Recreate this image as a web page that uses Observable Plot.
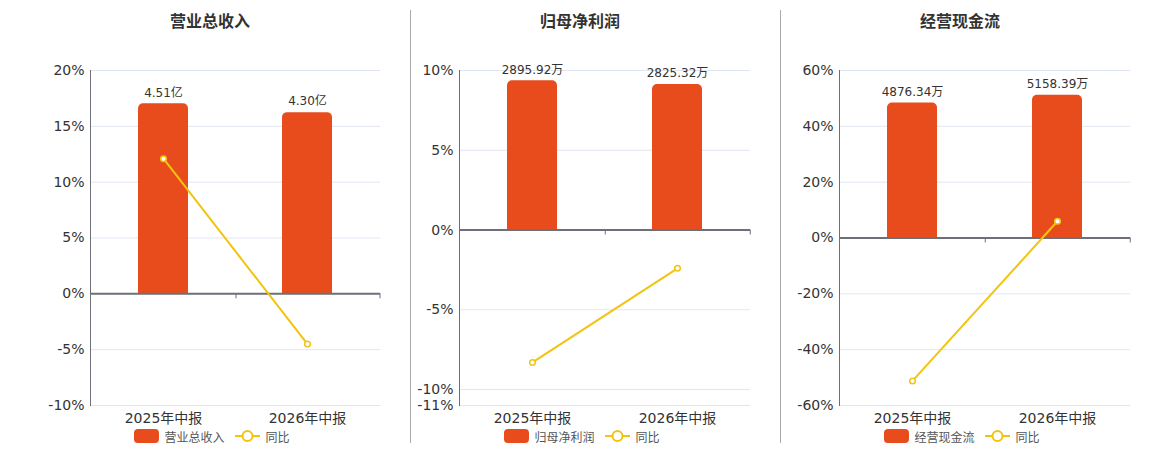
<!DOCTYPE html>
<html><head><meta charset="utf-8">
<script src="https://cdn.jsdelivr.net/npm/d3@7"></script>
<script src="https://cdn.jsdelivr.net/npm/@observablehq/plot@0.6"></script>
<style>
body{margin:0;background:#fff;font-family:"DejaVu Sans","Noto Sans CJK SC",sans-serif;}
#root{position:relative;width:1160px;height:450px;overflow:hidden;}
.title{position:absolute;top:10px;font-size:16px;font-weight:bold;color:#333;transform:translateX(-50%);white-space:nowrap;line-height:24px}
.plot{position:absolute;top:50px;}
.legend{position:absolute;top:428px;transform:translateX(-50%);display:flex;align-items:center;font-size:12px;color:#555;white-space:nowrap;height:16px}
.divider{position:absolute;top:10px;height:433px;width:1px;background:#aaa}
</style></head><body><div id="root"></div>
<script>
const categories = ["2025年中报", "2026年中报"];
const titles = ["营业总收入", "归母净利润", "经营现金流"];
const revenue = [4.51, 4.30];
const revenueYoY = [12.1, -4.5];
const netProfit = [2895.92, 2825.32];
const netProfitYoY = [-8.3, -2.4];
const cashFlow = [4876.34, 5158.39];
const cashFlowYoY = [-51.2, 6.0];
const units = ["亿", "万", "万"];
const yTicks1 = [-10, -5, 0, 5, 10, 15, 20];
const yTicks2 = [-11, -10, -5, 0, 5, 10];
const yTicks3 = [-60, -40, -20, 0, 20, 40, 60];
const barAxisMax = [5.3, 3097, 6055];
const legendLabel = "同比";

const BAR = "#e84c1c", LINE = "#f2c40f", AXIS = "#6e7079", GRID = "#e0e6f1";
const series = [
  {title: titles[0], values: revenue, yoy: revenueYoY, unit: units[0], ticks: yTicks1, barMax: barAxisMax[0]},
  {title: titles[1], values: netProfit, yoy: netProfitYoY, unit: units[1], ticks: yTicks2, barMax: barAxisMax[1]},
  {title: titles[2], values: cashFlow, yoy: cashFlowYoY, unit: units[2], ticks: yTicks3, barMax: barAxisMax[2]}
];
const layout = [
  {left: 0, width: 410, marginLeft: 90, center: 210},
  {left: 410, width: 370, marginLeft: 49, center: 580},
  {left: 780, width: 380, marginLeft: 59, center: 960}
];
const root = document.getElementById("root");
const font = '"DejaVu Sans","Noto Sans CJK SC",sans-serif';

series.forEach((s, i) => {
  const L = layout[i];
  const ymin = d3.min(s.ticks), ymax = d3.max(s.ticks);
  const rows = categories.map((c, j) => ({
    cat: c,
    bar: s.values[j] / s.barMax * ymax,
    yoy: s.yoy[j],
    label: s.values[j].toFixed(2) + s.unit
  }));
  const step = (L.width - L.marginLeft - 30) / categories.length;
  const chart = Plot.plot({
    width: L.width, height: 380,
    marginTop: 20, marginBottom: 25, marginLeft: L.marginLeft, marginRight: 30,
    x: {domain: categories, paddingInner: 0.655, paddingOuter: 0.3276, label: null},
    y: {domain: [ymin, ymax], label: null},
    style: {fontFamily: font, fontSize: "14px", color: "#333", background: "transparent", overflow: "visible"},
    marks: [
      Plot.gridY(s.ticks, {stroke: GRID, strokeOpacity: 1}),
      Plot.barY(rows, {x: "cat", y1: 0, y2: "bar", fill: BAR, rx: 5}),
      Plot.barY(rows, {x: "cat", y1: 0, y2: d => d.bar / 2, fill: BAR}),
      Plot.frame({anchor: "left", stroke: AXIS}),
      Plot.ruleY([0], {stroke: AXIS, strokeWidth: 2}),
      Plot.ruleX(categories, {x: d => d, y1: 0, y2: 0, dx: step / 2, insetBottom: -5, stroke: AXIS}),
      Plot.axisY({ticks: s.ticks, tickSize: 0, tickPadding: 6, tickFormat: d => d + "%", fontSize: 14, fill: "#333"}),
      Plot.axisX({tickSize: 0, tickPadding: 8, fontSize: 14, fill: "#333"}),
      Plot.line(rows, {x: "cat", y: "yoy", stroke: LINE, strokeWidth: 2}),
      Plot.dot(rows, {x: "cat", y: "yoy", r: 2.8, fill: "#fff", stroke: LINE, strokeWidth: 1.5}),
      Plot.text(rows, {x: "cat", y: "bar", text: "label", dy: -11, fontSize: 12, fill: "#333"})
    ]
  });
  const wrap = document.createElement("div");
  wrap.className = "plot";
  wrap.style.left = L.left + "px";
  wrap.appendChild(chart);
  root.appendChild(wrap);

  const t = document.createElement("div");
  t.className = "title";
  t.style.left = L.center + "px";
  t.textContent = s.title;
  root.appendChild(t);

  const lg = document.createElement("div");
  lg.className = "legend";
  lg.style.left = (L.center + 1.5) + "px";
  lg.innerHTML =
    `<svg width="25" height="14" style="margin-right:6px"><rect width="25" height="14" rx="4" fill="${BAR}"/></svg>` +
    `<span>${s.title}</span>` +
    `<svg width="25" height="14" style="margin:0 6px 0 10px"><line x1="0" x2="25" y1="7" y2="7" stroke="${LINE}" stroke-width="2"/><circle cx="12.5" cy="7" r="5" fill="#fff" stroke="${LINE}" stroke-width="2"/></svg>` +
    `<span>${legendLabel}</span>`;
  root.appendChild(lg);

  if (i > 0) {
    const dv = document.createElement("div");
    dv.className = "divider";
    dv.style.left = L.left + "px";
    root.appendChild(dv);
  }
});
</script></body></html>
